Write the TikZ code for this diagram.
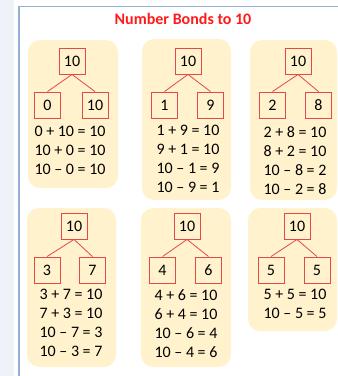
\documentclass[tikz,border=0pt]{standalone}
\usepackage{fontspec}
\setmainfont{Carlito}
\usetikzlibrary{positioning}
\definecolor{bondfill}{HTML}{FFF2CC}
\definecolor{bondred}{HTML}{E04A4A}
\definecolor{titlered}{HTML}{FF1A1A}
\definecolor{framecol}{HTML}{93AFD4}
\definecolor{stripcol}{HTML}{EEF3FA}
\tikzset{
  panel/.style={fill=bondfill, rounded corners=12pt},
  numbox/.style={draw=bondred, line width=0.9pt, minimum width=26pt,
                 minimum height=26pt, inner sep=0pt, font=\fontsize{16}{19}\selectfont},
  bondline/.style={draw=bondred, line width=0.8pt},
  eqlist/.style={align=center, inner sep=0pt, anchor=north,
                 font=\fontsize{16}{19}\selectfont},
}

\begin{document}
\begin{tikzpicture}[x=1pt,y=-1pt]
\useasboundingbox (0,0) rectangle (338,376);
% page frame
\fill[stripcol] (0,0) rectangle (14,376);
\draw[framecol, line width=1.5pt] (19,376) -- (19,6.5) -- (338,6.5);
\node[font=\bfseries\fontsize{16}{19}\selectfont, text=titlered] (title) at (183,19) {Number Bonds to 10};

% top row
\fill[panel] (28,40) rectangle (118,188);
\node[numbox] (a) at (72,61) {10};
\node[numbox] (a1) at (47.5,105) {0};
\node[numbox] (a2) at (95,105) {10};
\draw[bondline] (a.south) -- (a1.north);
\draw[bondline] (a.south) -- (a2.north);
\node[eqlist] (aeq) at (70,126) {0 + 10 = 10\\10 + 0 = 10\\10 – 0 = 10};

\fill[panel] (142,39) rectangle (231,200);
\node[numbox] (b) at (188,61) {10};
\node[numbox] (b1) at (164.5,105) {1};
\node[numbox] (b2) at (210.5,105) {9};
\draw[bondline] (b.south) -- (b1.north);
\draw[bondline] (b.south) -- (b2.north);
\node[eqlist] (beq) at (188,125) {1 + 9 = 10\\9 + 1 = 10\\10 – 1 = 9\\10 – 9 = 1};

\fill[panel] (250,40) rectangle (337,200);
\node[numbox] (c) at (298,61) {10};
\node[numbox] (c1) at (272.5,105) {2};
\node[numbox] (c2) at (318.5,105) {8};
\draw[bondline] (c.south) -- (c1.north);
\draw[bondline] (c.south) -- (c2.north);
\node[eqlist] (ceq) at (295,126) {2 + 8 = 10\\8 + 2 = 10\\10 – 8 = 2\\10 – 2 = 8};

% bottom row
\fill[panel] (27,208) rectangle (116,367);
\node[numbox] (d) at (74,226) {10};
\node[numbox] (d1) at (47,270) {3};
\node[numbox] (d2) at (92.5,270) {7};
\draw[bondline] (d.south) -- (d1.north);
\draw[bondline] (d.south) -- (d2.north);
\node[eqlist] (deq) at (71,289) {3 + 7 = 10\\7 + 3 = 10\\10 – 7 = 3\\10 – 3 = 7};

\fill[panel] (141,208) rectangle (231,367);
\node[numbox] (e) at (187,226) {10};
\node[numbox] (e1) at (162.5,270) {4};
\node[numbox] (e2) at (208.5,270) {6};
\draw[bondline] (e.south) -- (e1.north);
\draw[bondline] (e.south) -- (e2.north);
\node[eqlist] (eeq) at (186,289) {4 + 6 = 10\\6 + 4 = 10\\10 – 6 = 4\\10 – 4 = 6};

\fill[panel] (248,208) rectangle (337,331);
\node[numbox] (f) at (297,226) {10};
\node[numbox] (f1) at (271,270) {5};
\node[numbox] (f2) at (317,270) {5};
\draw[bondline] (f.south) -- (f1.north);
\draw[bondline] (f.south) -- (f2.north);
\node[eqlist] (feq) at (295,289) {5 + 5 = 10\\10 – 5 = 5};
\end{tikzpicture}
\end{document}
